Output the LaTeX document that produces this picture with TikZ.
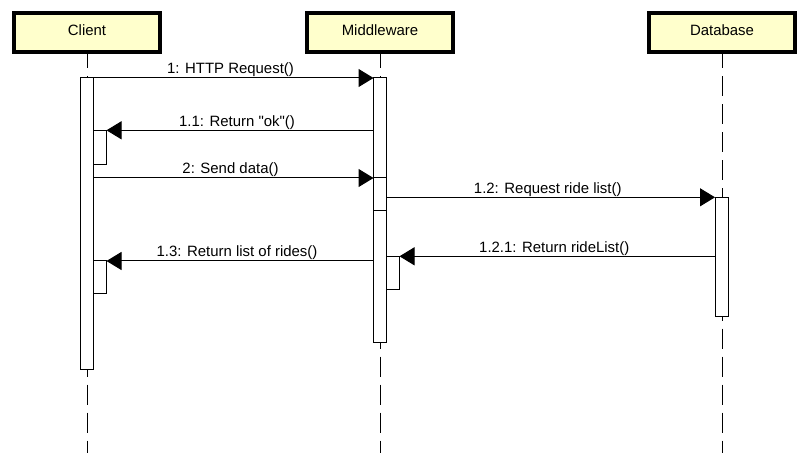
\documentclass[tikz,border=0pt]{standalone}
\usepackage{fontspec}
\setmainfont{Liberation Sans}
\newfontfamily\rawfont{Liberation Sans}
\usetikzlibrary{arrows.meta}
\definecolor{actorfill}{HTML}{FFFFCC}
\begin{document}
\begin{tikzpicture}[x=1bp,y=-1bp,
  actor/.style={draw, line width=4bp, fill=actorfill, minimum width=146bp, minimum height=39bp,
    inner sep=0pt, text height=11bp, text depth=5bp, font=\rawfont\fontsize{15}{18}\selectfont},
  lifeline/.style={line width=1bp, dash pattern=on 20bp off 8bp, dash phase=6bp},
  bar/.style={draw, fill=white, line width=1bp, minimum width=13bp, inner sep=0pt, outer sep=0pt, anchor=north},
  msg/.style={line width=1bp, -{Triangle[length=15bp,width=18bp]}},
  lbl/.style={midway, anchor=base, yshift=4bp, xshift=-3bp, inner sep=0pt, font=\rawfont\fontsize{15}{18}\selectfont}]
\fill[white] (0,0) rectangle (808,466);
\useasboundingbox (0,0) rectangle (808,466);

% actors
\node[actor] (client) at (87,33) {Client};
\node[actor] (mid) at (380,33) {Middleware};
\node[actor] (db) at (722,33) {Database};

% lifeline ends
\coordinate (cend) at (87,453);
\coordinate (mend) at (380,453);
\coordinate (dend) at (722,453);
\draw[lifeline] (client.south) -- (cend);
\draw[lifeline] (mid.south) -- (mend);
\draw[lifeline] (db.south) -- (dend);

% activation bars
\node[bar, minimum height=291bp] (cbar) at (87,78) {};
\node[bar, minimum height=34bp] (cn1) at (100,130.3) {};
\node[bar, minimum height=33bp] (cn2) at (100,261) {};
\node[bar, minimum height=133bp] (mbar1) at (380,78) {};
\node[bar, minimum height=164bp] (mbar2) at (380,178) {};
\draw[line width=1bp] (mbar1.south west) -- (mbar1.south east);
\node[bar, minimum height=33bp] (mn1) at (393,256.3) {};
\node[bar, minimum height=119bp] (dbar) at (721.5,197.3) {};

% messages
\draw[msg] (cbar.north east) -- (mbar1.north west) node[lbl] {1: HTTP Request()};
\draw[msg] (mbar1.west |- cn1.north) -- (cn1.north east) node[lbl] {1.1: Return "ok"()};
\draw[msg] (cbar.east |- mbar2.north) -- (mbar2.north west) node[lbl] {2: Send data()};
\draw[msg] (mbar2.east |- dbar.north) -- (dbar.north west) node[lbl] {1.2: Request ride list()};
\draw[msg] (dbar.west |- mn1.north) -- (mn1.north east) node[lbl] {1.2.1: Return rideList()};
\draw[msg] (mbar2.west |- cn2.north) -- (cn2.north east) node[lbl] {1.3: Return list of rides()};
\end{tikzpicture}
\end{document}
